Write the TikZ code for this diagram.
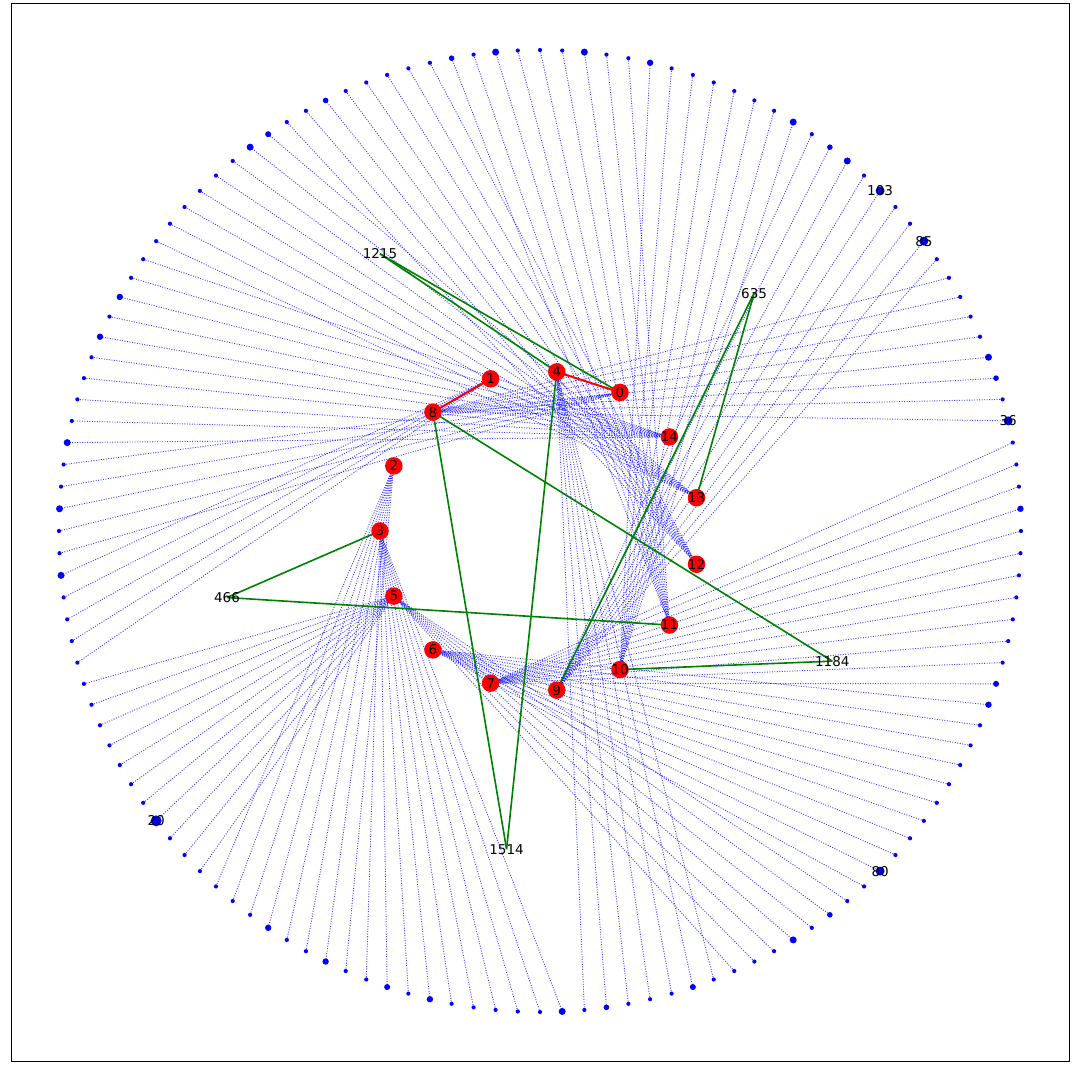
\documentclass[tikz,border=0pt]{standalone}
\usepackage{fontspec}
\setmainfont{DejaVu Sans}
\usetikzlibrary{calc}
\definecolor{mplgreen}{RGB}{0,128,0}
\begin{document}
\begin{tikzpicture}[x=1pt,y=1pt,
  bl/.style={draw=blue, opacity=0.75, line width=0.9pt, dash pattern=on 1pt off 1.5pt},
  gr/.style={draw=mplgreen, line width=1.6pt},
  rd/.style={draw=red, line width=2pt},
  innernode/.style={circle, fill=red, inner sep=0pt, minimum size=17.5pt},
  dot/.style={circle, fill=blue, inner sep=0pt, minimum size=#1},
  lab/.style={font=\fontsize{13.5}{14}\selectfont, text=black, inner sep=0pt}]
\useasboundingbox (0,0) rectangle (1072,1072);
\draw[line width=0.8pt] (11,11) rectangle (1069,1069);
\coordinate (C) at (540,541);
% inner ring
\foreach \n/\a in {13/12,14/36,0/60,4/84,1/108,8/132,2/156,3/180,5/204,6/228,7/252,9/276,10/300,11/324,12/348}
  \coordinate (n\n) at ($(C)+(\a:160)$);
% middle ring
\foreach \n/\a in {1215/120,635/48,466/192,1184/336,1514/264}
  \coordinate (m\n) at ($(C)+(\a:320)$);
% outer ring
\foreach \j in {0,...,135}
  \coordinate (o\j) at ($(C)+({\j*2.6470588}:481)$);
% blue dotted edges
\foreach \a/\b/\t in {0/4/7, 5/12/8, 13/21/9, 22/29/10, 30/38/11, 39/46/12, 47/54/13, 55/64/14, 65/69/0, 70/74/1, 75/85/5, 86/93/2, 94/103/3, 104/110/4, 111/117/5, 118/128/6, 129/135/7}
  \foreach \j in {\a,...,\b}
    \draw[bl] (o\j) -- (n\t);
% green edges
\foreach \m/\t in {1215/4,1215/0,635/9,635/13,466/3,466/11,1184/8,1184/10,1514/8,1514/4}
  \draw[gr] (m\m) -- (n\t);
% red edges
\draw[rd] (n0) -- (n4);
\draw[rd] (n1) -- (n8);
% outer dots
\foreach \j in {0,...,135}
  \node[dot=4.2pt] (d\j) at (o\j) {};
\foreach \j/\s in {1/6.4,7/5.6,8/7,19/7,20/5.6,22/7,29/6.4,32/7,36/7,38/5.6,44/5.6,47/6,48/7,57/6.4,59/6.4,64/7,67/7,70/7,89/6.4,92/6.4,95/6,97/6.4,103/7,105/5.6,109/6,114/7,116/5.6,128/6.4,129/6}
  \node[dot=\s pt] (D\j) at (o\j) {};
\foreach \j/\s in {5/9,14/9,17/9,82/11,119/9}
  \node[dot=\s pt] (B\j) at (o\j) {};
% inner nodes
\foreach \n in {0,1,2,3,4,5,6,7,8,9,10,11,12,13,14}{
  \node[innernode] (N\n) at (n\n) {};
  \node[lab] (L\n) at (n\n) {\n};
}
% labels
\foreach \m in {1215,635,466,1184,1514}
  \node[lab] (M\m) at (m\m) {\m};
\node[lab] (T17) at (o17) {103};
\node[lab] (T14) at (o14) {85};
\node[lab] (T5) at (o5) {36};
\node[lab] (T82) at (o82) {20};
\node[lab] (T119) at (o119) {80};
\end{tikzpicture}
\end{document}
